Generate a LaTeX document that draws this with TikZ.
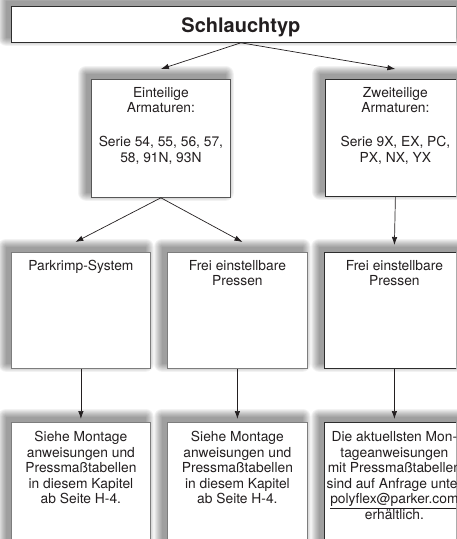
\documentclass[tikz,border=0pt]{standalone}
\usepackage{fontspec}
\setmainfont{TeX Gyre Heros}
\usetikzlibrary{arrows.meta, backgrounds}
\definecolor{rahmengrau}{RGB}{125,125,125}
\definecolor{rahmendunkel}{RGB}{45,45,45}
\definecolor{schrift}{RGB}{35,31,32}
\newcommand{\kastentext}[4]{\parbox[c][#2][t]{#1}{\centering\rule{0pt}{#3}#4}}

\begin{document}
\begin{tikzpicture}[x=1pt, y=1pt,
  kasten/.style={draw=rahmengrau, line width=0.8pt, fill=white, inner sep=0pt, anchor=north west, text=schrift,
    font=\fontsize{13.8}{15.5}\selectfont},
  kastendunkel/.style={kasten, draw=rahmendunkel},
  schatten/.style={black, opacity=0.05},
  pfeil/.style={draw=schrift, line width=0.7pt, -{Latex[length=8pt,width=5.5pt]}}]
  \useasboundingbox (0,0) rectangle (456,-539);
  \clip (0,0) rectangle (456,-539);

  % 标题
  \node[kastendunkel, font=\fontsize{20}{24}\selectfont\bfseries] (titel) at (11,-6)
    {\kastentext{459pt}{36pt}{26pt}{Schlauchtyp}};

  % 第二行：接头
  \node[kasten, draw=rahmendunkel!80] (ein) at (91,-79)
    {\kastentext{139pt}{118pt}{17.7pt}{Einteilige\\Armaturen:\\[18.5pt]Serie 54, 55, 56, 57,\\58, 91N, 93N}};
  \node[kastendunkel] (zwei) at (325,-79)
    {\kastentext{140pt}{117pt}{17.7pt}{Zweiteilige\\Armaturen:\\[18.5pt]Serie 9X, EX, PC,\\PX, NX, YX}};

  % 第三行：压接设备
  \node[kasten] (parkrimp) at (11,-252) {\kastentext{139pt}{116pt}{18pt}{Parkrimp-System}};
  \node[kasten] (frei) at (167,-252) {\kastentext{140pt}{116pt}{18pt}{Frei einstellbare\\Pressen}};
  \node[kastendunkel] (freizwei) at (324,-252) {\kastentext{140pt}{116pt}{18pt}{Frei einstellbare\\Pressen}};

  % 第四行：说明
  \node[kasten] (montage) at (11,-422)
    {\kastentext{139pt}{140pt}{19.5pt}{Siehe Montage\\anweisungen und\\Pressmaßtabellen\\in diesem Kapitel\\ab Seite H-4.}};
  \node[kasten] (montagezwei) at (167,-422)
    {\kastentext{140pt}{140pt}{19.5pt}{Siehe Montage\\anweisungen und\\Pressmaßtabellen\\in diesem Kapitel\\ab Seite H-4.}};
  \node[kastendunkel] (anfrage) at (324,-422)
    {\kastentext{140pt}{140pt}{19.5pt}{Die aktuellsten Mon-\\tageanweisungen\\mit Pressmaßtabellen\\sind auf Anfrage unter\\\underline{polyflex@parker.com}\\erhältlich.}};

  % 阴影（左上方）
  \begin{scope}[on background layer]
    \foreach \k in {titel,ein,zwei,parkrimp,frei,freizwei,montage,montagezwei,anfrage}
      \foreach \r in {0,...,8}
        \fill[schatten, rounded corners=\r pt]
          ([shift={(-5-\r,5-\r)}]\k.south west) rectangle ([shift={(-5+\r,5+\r)}]\k.north east);
  \end{scope}

  % 箭头
  \draw[pfeil] (titel.south) -- ([yshift=10pt]ein.north);
  \draw[pfeil] (titel.south) -- ([yshift=10pt]zwei.north);
  \draw[pfeil] (ein.south) -- ([xshift=-5.5pt,yshift=10pt]parkrimp.north);
  \draw[pfeil] (ein.south) -- ([xshift=5pt,yshift=10pt]frei.north);
  \draw[pfeil] (zwei.south) -- ([yshift=7pt]freizwei.north);
  \draw[pfeil] (parkrimp.south) -- ([yshift=3pt]montage.north);
  \draw[pfeil] (frei.south) -- ([yshift=3pt]montagezwei.north);
  \draw[pfeil] (freizwei.south) -- ([yshift=3pt]anfrage.north);
\end{tikzpicture}
\end{document}
